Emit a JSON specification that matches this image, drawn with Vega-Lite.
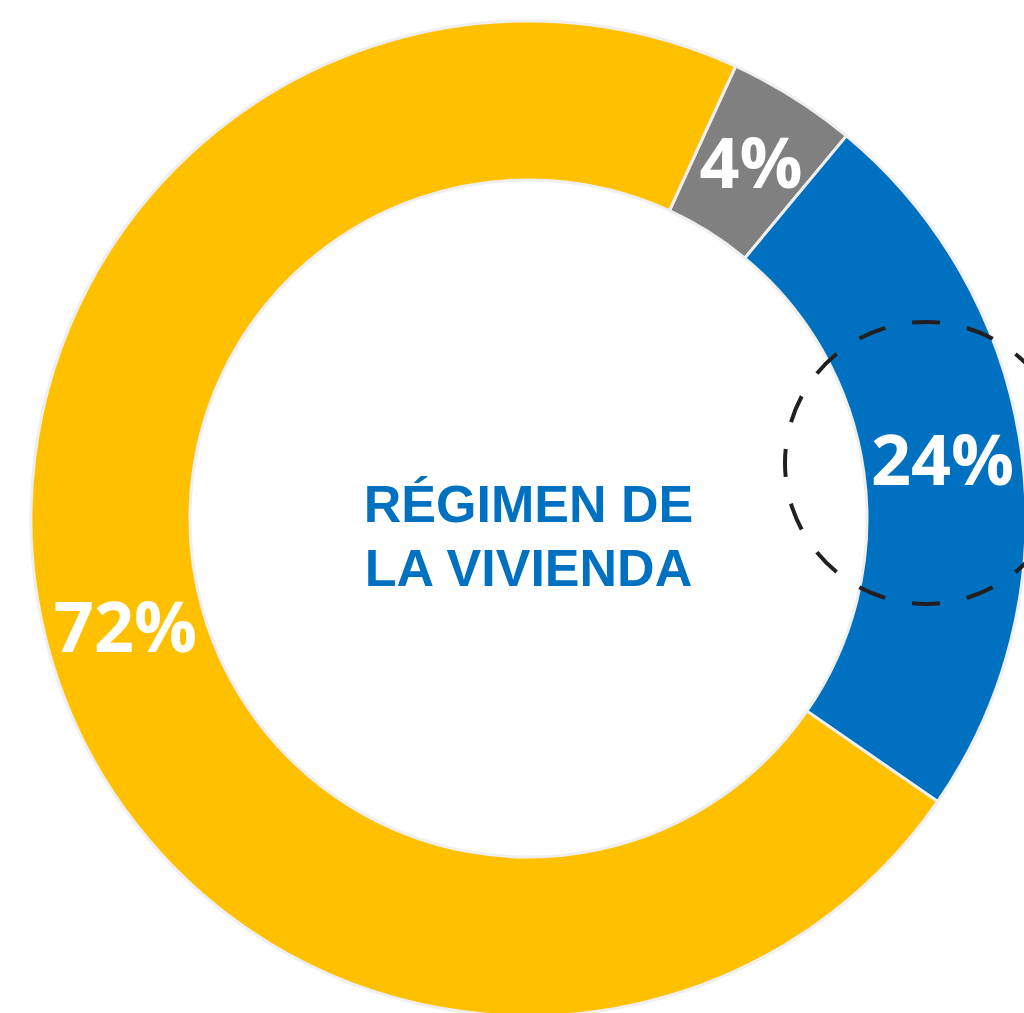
{
  "$schema": "https://vega.github.io/schema/vega-lite/v6.json",
  "width": 1024,
  "height": 1013,
  "autosize": {"type": "none"},
  "padding": 0,
  "background": "white",
  "config": {"view": {"stroke": null}},
  "datasets": {
    "slices": [
      {"categoria": "Otro", "valor": 4.2, "orden": 1, "etiqueta": "4%"},
      {"categoria": "Alquilada", "valor": 23.6, "orden": 2, "etiqueta": "24%"},
      {"categoria": "Propia", "valor": 72.2, "orden": 3, "etiqueta": "72%"}
    ],
    "centro": [{"px": 0, "py": 0, "titulo": ["RÉGIMEN DE", "LA VIVIENDA"]}],
    "resalte": [{"px": 79.9, "py": 11.16}]
  },
  "layer": [
    {
      "data": {"name": "slices"},
      "mark": {"type": "arc", "outerRadius": 497.5, "innerRadius": 338.5, "stroke": "#EFEFEF", "strokeWidth": 3},
      "encoding": {
        "x": {"datum": 0, "type": "quantitative", "scale": {"domain": [-106.23, 99.6], "nice": false, "zero": false}, "axis": null},
        "y": {"datum": 0, "type": "quantitative", "scale": {"domain": [-99.4, 104.22], "nice": false, "zero": false}, "axis": null},
        "theta": {"field": "valor", "type": "quantitative", "stack": true, "scale": {"range": [0.4294, 6.7126]}},
        "order": {"field": "orden", "type": "quantitative"},
        "color": {"field": "categoria", "type": "nominal", "scale": {"domain": ["Otro", "Alquilada", "Propia"], "range": ["#808080", "#0070C0", "#FFC000"]}, "legend": null}
      }
    },
    {
      "data": {"name": "slices"},
      "mark": {"type": "text", "radius": 418, "font": "Open Sans", "fontWeight": 700, "fontSize": 70, "color": "white", "align": "center", "baseline": "middle", "dy": 2},
      "encoding": {
        "x": {"datum": 0, "type": "quantitative"},
        "y": {"datum": 0, "type": "quantitative"},
        "theta": {"field": "valor", "type": "quantitative", "stack": true},
        "order": {"field": "orden", "type": "quantitative"},
        "text": {"field": "etiqueta", "type": "nominal"}
      }
    },
    {
      "data": {"name": "centro"},
      "mark": {"type": "text", "font": "Liberation Sans", "fontWeight": "bold", "fontSize": 52, "lineHeight": 64, "color": "#0070C0", "align": "center", "baseline": "alphabetic", "dy": 3.5},
      "encoding": {
        "x": {"field": "px", "type": "quantitative"},
        "y": {"field": "py", "type": "quantitative"},
        "text": {"field": "titulo"}
      }
    },
    {
      "data": {"name": "resalte"},
      "mark": {"type": "point", "shape": "circle", "filled": false, "size": 79524, "stroke": "#231F20", "strokeWidth": 4, "strokeDash": [28, 27.37], "strokeDashOffset": 14, "opacity": 1},
      "encoding": {
        "x": {"field": "px", "type": "quantitative"},
        "y": {"field": "py", "type": "quantitative"}
      }
    }
  ]
}
